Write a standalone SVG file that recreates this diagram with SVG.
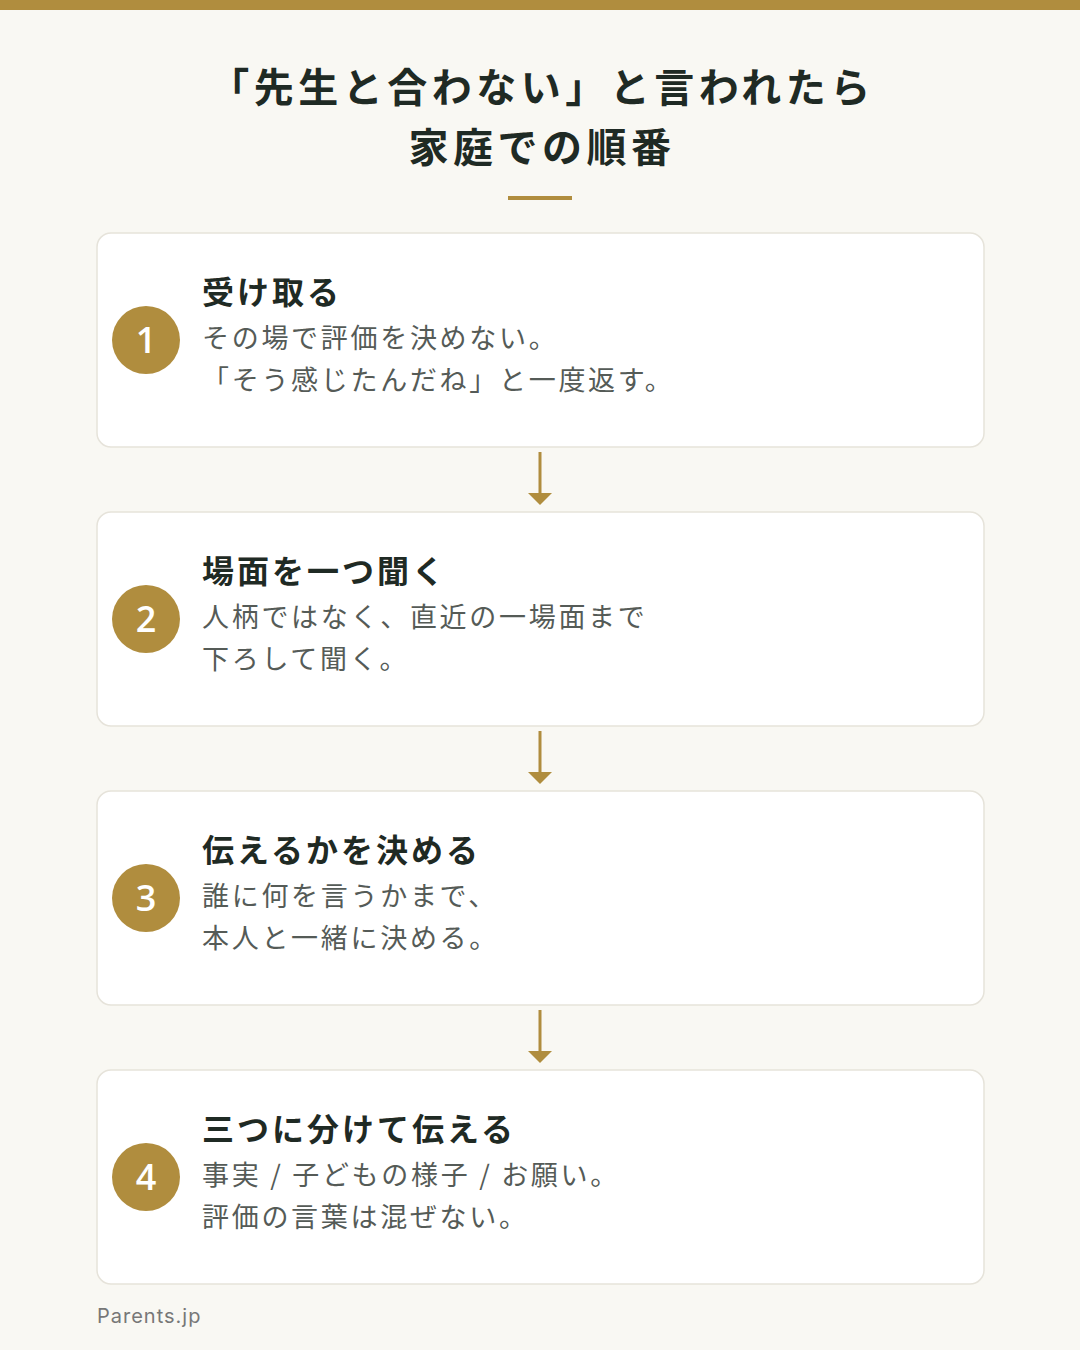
<svg xmlns="http://www.w3.org/2000/svg" width="1080" height="1350" viewBox="0 0 1080 1350">
<style>
.t{font-family:"Noto Sans CJK JP",sans-serif;font-weight:700;fill:#1f2a24;letter-spacing:4.5px}
.h{font-family:"Noto Sans CJK JP",sans-serif;font-weight:700;font-size:32px;fill:#1f2a24;letter-spacing:3px}
.b{font-family:"Noto Sans CJK JP",sans-serif;font-size:27px;fill:#555b57;letter-spacing:2.7px}
.card{fill:#fff;stroke:#e6e3da;stroke-width:1.5}
.c{fill:#b08d3e}
.n{font-family:"Open Sans",sans-serif;font-weight:600;font-size:36px;fill:#fff;text-anchor:middle}
.ar{stroke:#b08d3e;stroke-width:3}
</style>
<defs><marker id="m" viewBox="0 0 24 12" refX="12" refY="6" markerWidth="24" markerHeight="12" markerUnits="userSpaceOnUse" orient="auto"><path d="M0 0L12 6L0 12Z" transform="translate(0,0)" fill="#b08d3e"/></marker></defs>
<rect width="1080" height="1350" fill="#f9f8f3"/>
<rect width="1080" height="10" fill="#b08d3e"/>
<g id="title">
<text class="t" x="542" y="102" font-size="40" text-anchor="middle">「先生と合わない」と言われたら</text>
<text class="t" x="542" y="162" font-size="40" text-anchor="middle">家庭での順番</text>
<rect x="508" y="196" width="64" height="4" fill="#b08d3e"/>
</g>
<g id="step1"><rect class="card" x="97" y="233" width="887" height="214" rx="14"/><circle class="c" cx="146" cy="340" r="34"/><text class="n" x="146" y="353">1</text>
<text class="h" x="202" y="304">受け取る</text><text class="b" x="202" y="348">その場で評価を決めない。</text><text class="b" x="202" y="390">「そう感じたんだね」と一度返す。</text></g>
<g id="step2"><rect class="card" x="97" y="512" width="887" height="214" rx="14"/><circle class="c" cx="146" cy="619" r="34"/><text class="n" x="146" y="632">2</text>
<text class="h" x="202" y="583">場面を一つ聞く</text><text class="b" x="202" y="627">人柄ではなく、直近の一場面まで</text><text class="b" x="202" y="669">下ろして聞く。</text></g>
<g id="step3"><rect class="card" x="97" y="791" width="887" height="214" rx="14"/><circle class="c" cx="146" cy="898" r="34"/><text class="n" x="146" y="911">3</text>
<text class="h" x="202" y="862">伝えるかを決める</text><text class="b" x="202" y="906">誰に何を言うかまで、</text><text class="b" x="202" y="948">本人と一緒に決める。</text></g>
<g id="step4"><rect class="card" x="97" y="1070" width="887" height="214" rx="14"/><circle class="c" cx="146" cy="1177" r="34"/><text class="n" x="146" y="1190">4</text>
<text class="h" x="202" y="1141">三つに分けて伝える</text><text class="b" x="202" y="1185">事実 / 子どもの様子 / お願い。</text><text class="b" x="202" y="1227">評価の言葉は混ぜない。</text></g>
<g id="connectors">
<path d="M528 493L552 493L540 505Z" fill="#b08d3e"/>
<path d="M528 772L552 772L540 784Z" fill="#b08d3e"/>
<path d="M528 1051L552 1051L540 1063Z" fill="#b08d3e"/>
<line class="ar" x1="540" y1="452" x2="540" y2="495"/>
<line class="ar" x1="540" y1="731" x2="540" y2="774"/>
<line class="ar" x1="540" y1="1010" x2="540" y2="1053"/>
</g>
<text x="97" y="1323" font-family="Inter,sans-serif" font-size="20" fill="#777" letter-spacing="1">Parents.jp</text>
</svg>
